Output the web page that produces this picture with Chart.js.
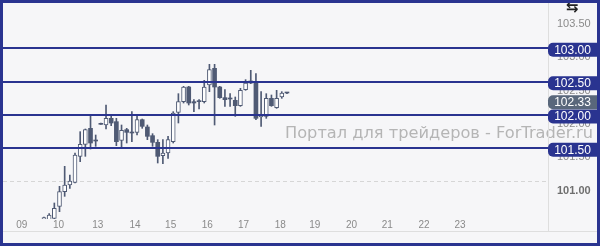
<!DOCTYPE html>
<html>
<head>
<meta charset="utf-8">
<script src="https://cdn.jsdelivr.net/npm/chart.js@4.4.1/dist/chart.umd.min.js"></script>
<style>
  html, body { margin: 0; padding: 0; background: #f6f6f8; }
  #frame { width: 600px; height: 246px; box-sizing: border-box; border: 3px solid #2a3490; background: #f6f6f8; }
  canvas { display: block; }
</style>
</head>
<body>
<div id="frame"><canvas id="chart" width="594" height="240"></canvas></div>
<script>
// H4-ish candles, bar index = position on the time axis
const opens  = [100.40, 100.43, 100.45, 100.63, 100.85, 100.95, 100.99, 101.38, 101.56, 101.80,
                101.62, 101.87, 101.85, 101.95, 101.90, 101.62, 101.78, 101.74, 101.74, 101.93,
                101.82, 101.69, 101.59, 101.39, 101.43, 101.60, 102.04, 102.20, 102.42, 102.20,
                102.20, 102.20, 102.45, 102.70, 102.42, 102.26, 102.25, 102.22, 102.14, 102.38,
                102.51, 102.50, 101.97, 101.98, 102.25, 102.11, 102.27, 102.33];
const highs  = [100.47, 100.52, 100.68, 100.93, 101.23, 101.10, 101.43, 101.75, 101.79, 101.99,
                101.70, 101.88, 102.15, 101.99, 101.95, 101.85, 101.80, 102.05, 101.99, 101.94,
                101.85, 101.72, 101.63, 101.63, 101.68, 102.05, 102.32, 102.43, 102.43, 102.23,
                102.23, 102.52, 102.76, 102.76, 102.43, 102.38, 102.32, 102.27, 102.40, 102.53,
                102.67, 102.62, 102.35, 102.32, 102.30, 102.37, 102.35, 102.34];
const lows   = [100.30, 100.38, 100.42, 100.55, 100.78, 100.90, 100.98, 101.30, 101.38, 101.49,
                101.53, 101.86, 101.79, 101.84, 101.54, 101.52, 101.58, 101.60, 101.70, 101.80,
                101.63, 101.53, 101.28, 101.27, 101.35, 101.58, 101.88, 102.18, 102.15, 102.05,
                102.09, 102.18, 102.35, 101.85, 102.25, 102.13, 102.13, 101.98, 102.13, 102.37,
                102.47, 101.93, 101.83, 101.95, 102.13, 102.10, 102.25, 102.32];
const closes = [100.46, 100.50, 100.60, 100.85, 100.95, 101.01, 101.40, 101.56, 101.78, 101.58,
                101.61, 101.86, 101.95, 101.88, 101.60, 101.77, 101.74, 101.73, 101.93, 101.83,
                101.68, 101.59, 101.38, 101.43, 101.63, 102.03, 102.20, 102.42, 102.18, 102.18,
                102.21, 102.42, 102.68, 102.42, 102.26, 102.23, 102.24, 102.14, 102.37, 102.48,
                102.48, 101.95, 102.00, 102.25, 102.14, 102.25, 102.33, 102.33];

// day labels on the time axis and where they sit (in bar units)
const dayLabels = ['09', '10', '13', '14', '15', '16', '17', '18', '19', '20', '21', '22', '23'];
const dayTicks  = [-4.3, 2.8, 10.4, 17.6, 24.5, 31.6, 38.6, 45.7, 52.4, 59.5, 66.4, 73.5, 80.5];

const priceTicks = [101.0, 101.5, 102.0, 102.5, 103.0, 103.5];
const levels = [103.0, 102.5, 102.0, 101.5];
const watermark = 'Портал для трейдеров - ForTrader.ru';

const NAVY = '#2a3490';
const CANDLE = '#4f5a74';

const wicks = lows.map((l, i) => ({ x: i, y: [l, highs[i]] }));
const bodies = opens.map((o, i) => ({ x: i, y: [o, closes[i]] }));
const isUp = i => closes[i] - opens[i] >= 0.015;

const fmt = v => v.toFixed(2);

const overlay = {
    id: 'overlay',
    beforeDatasetsDraw(chart) {
        const { ctx } = chart;
        ctx.save();
        ctx.font = '16px "DejaVu Sans"';
        ctx.fillStyle = '#b5b5b5';
        ctx.textBaseline = 'alphabetic';
        const w = ctx.measureText(watermark).width;
        ctx.translate(chart.width - 4, 135);
        ctx.scale(308 / w, 1);
        ctx.textAlign = 'right';
        ctx.fillText(watermark, 0, 0);
        ctx.restore();
    },
    afterDatasetsDraw(chart) {
        const { ctx, chartArea, scales: { y } } = chart;
        ctx.save();
        ctx.strokeStyle = NAVY;
        ctx.lineWidth = 2;
        levels.forEach(v => {
            const py = Math.round(y.getPixelForValue(v));
            ctx.beginPath();
            ctx.moveTo(chartArea.left, py);
            ctx.lineTo(chartArea.right, py);
            ctx.stroke();
        });
        ctx.restore();
    },
    afterDraw(chart) {
        const { ctx, chartArea, scales: { y } } = chart;
        ctx.save();
        // frame lines
        ctx.strokeStyle = '#dedede';
        ctx.lineWidth = 1;
        ctx.beginPath();
        ctx.moveTo(0, 228.5);
        ctx.lineTo(chart.width, 228.5);
        ctx.moveTo(chartArea.right + 0.5, 0);
        ctx.lineTo(chartArea.right + 0.5, 228);
        ctx.stroke();

        // little scale icon top right
        ctx.fillStyle = '#222';
        ctx.font = 'bold 15px "DejaVu Sans"';
        ctx.textAlign = 'center';
        ctx.textBaseline = 'top';
        ctx.fillText('⇆', 569, -2);

        // price badges
        const bx = chartArea.right;
        const bw = chart.width - bx;
        const bh = 14;
        ctx.font = '12px "Liberation Sans", Arial, sans-serif';
        ctx.textAlign = 'center';
        ctx.textBaseline = 'middle';
        const drawBadge = (yc, fill, text) => {
            ctx.fillStyle = fill;
            ctx.beginPath();
            ctx.roundRect(bx, yc - bh / 2, bw, bh, [5, 0, 0, 5]);
            ctx.fill();
            ctx.fillStyle = '#ffffff';
            ctx.fillText(text, bx + bw / 2, yc + 0.5);
        };
        const taken = [];
        levels.forEach(v => {
            const yc = y.getPixelForValue(v) + 1.5;
            taken.push(yc);
            drawBadge(yc, NAVY, fmt(v));
        });
        // current price badge, pushed clear of the level badges
        const last = closes[closes.length - 1];
        let yc = y.getPixelForValue(last) + 1.5;
        taken.forEach(t => {
            if (Math.abs(t - yc) < bh + 2 && yc > t) yc = t + bh + 5;
        });
        drawBadge(yc, '#59677b', fmt(last));
        ctx.restore();
    }
};

new Chart(document.getElementById('chart'), {
    type: 'bar',
    data: {
        datasets: [
            {
                data: wicks,
                backgroundColor: CANDLE,
                barThickness: 1,
                grouped: false,
                order: 2
            },
            {
                data: bodies,
                backgroundColor: bodies.map((d, i) => isUp(i) ? '#ffffff' : CANDLE),
                borderColor: CANDLE,
                borderWidth: bodies.map((d, i) => isUp(i) ? 1 : 0),
                borderSkipped: false,
                barThickness: 4,
                minBarLength: 1,
                grouped: false,
                order: 1
            }
        ]
    },
    options: {
        responsive: false,
        animation: false,
        layout: { padding: 0 },
        plugins: { legend: { display: false }, tooltip: { enabled: false } },
        scales: {
            x: {
                type: 'linear',
                offset: false,
                min: -7.93,
                max: 97.5,
                grid: { display: false, drawTicks: false, offset: false },
                border: { display: false },
                afterBuildTicks: scale => { scale.ticks = dayTicks.map(v => ({ value: v })); },
                afterFit: scale => {
                    scale.height = 24;
                    scale.paddingLeft = 0;
                    scale.paddingRight = 0;
                },
                ticks: {
                    autoSkip: false,
                    maxRotation: 0,
                    padding: 0,
                    color: '#8a8a8a',
                    font: { family: '"Liberation Sans", Arial, sans-serif', size: 10 },
                    callback: (v, i) => dayLabels[i]
                }
            },
            y: {
                position: 'right',
                min: 100.44,
                max: 103.68,
                afterBuildTicks: scale => { scale.ticks = priceTicks.map(v => ({ value: v })); },
                afterFit: scale => {
                    scale.width = 49;
                    scale.paddingTop = 0;
                    scale.paddingBottom = 0;
                },
                grid: {
                    drawTicks: false,
                    color: c => (c.tick && c.tick.value === 101) ? '#d6d6d6' : 'rgba(0,0,0,0)'
                },
                border: { display: false, dash: [4, 3] },
                ticks: {
                    padding: 9,
                    labelOffset: 9,
                    color: c => (c.tick && c.tick.value === 101) ? '#6f6f6f' : '#8a8a8a',
                    font: c => ({
                        family: '"Liberation Sans", Arial, sans-serif',
                        size: 11,
                        weight: (c.tick && c.tick.value === 101) ? 'bold' : 'normal'
                    }),
                    callback: v => fmt(v)
                }
            }
        }
    },
    plugins: [overlay]
});
</script>
</body>
</html>
